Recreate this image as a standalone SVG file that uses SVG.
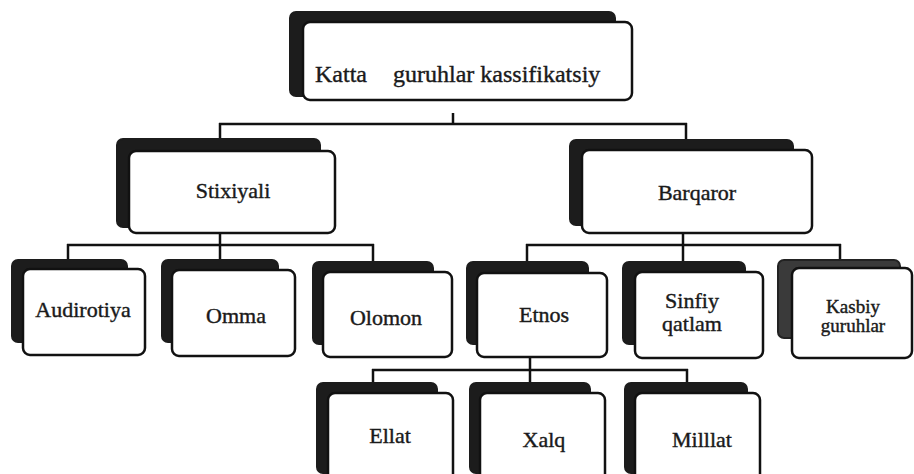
<svg xmlns="http://www.w3.org/2000/svg" width="914" height="474" viewBox="0 0 914 474">
<style>
.back{fill:#1c1c1c;stroke:#1c1c1c;stroke-width:2}
.back2{fill:#3a3a3a;stroke:#222;stroke-width:2}
.front{fill:#fff;stroke:#111;stroke-width:2.5}
.lbl{font-family:"Liberation Serif","DejaVu Serif",serif;font-size:22px;fill:#1a1a1a;text-anchor:middle;stroke:#1a1a1a;stroke-width:0.4}
.sm{font-size:19px}
.conn line{stroke:#111;stroke-width:2.5}
</style>
<rect width="914" height="474" fill="#fff"/>
<g class="conn" id="connectors">
<line x1="453" y1="113" x2="453" y2="125"/>
<line x1="219" y1="124" x2="687" y2="124"/>
<line x1="220" y1="123" x2="220" y2="139"/>
<line x1="686" y1="123" x2="686" y2="140"/>
<line x1="220" y1="233" x2="220" y2="260"/>
<line x1="67" y1="245" x2="374" y2="245"/>
<line x1="68" y1="244" x2="68" y2="260"/>
<line x1="373" y1="244" x2="373" y2="262"/>
<line x1="683" y1="233" x2="683" y2="262"/>
<line x1="526" y1="245" x2="841" y2="245"/>
<line x1="527" y1="244" x2="527" y2="262"/>
<line x1="840" y1="244" x2="840" y2="260"/>
<line x1="530" y1="357" x2="530" y2="383"/>
<line x1="372" y1="370" x2="688" y2="370"/>
<line x1="373" y1="369" x2="373" y2="383"/>
<line x1="687" y1="369" x2="687" y2="383"/>
</g>
<g id="n-top">
<rect class="back" x="290" y="12" width="325" height="84" rx="6"/>
<rect class="front" x="303" y="22" width="329" height="78" rx="7"/>
<text class="lbl" style="font-size:24px;text-anchor:start" y="82"><tspan x="315">Katta</tspan><tspan x="393">guruhlar kassifikatsiy</tspan></text>
</g>
<g id="n-stixiyali">
<rect class="back" x="117" y="139" width="203" height="88" rx="6"/>
<rect class="front" x="129" y="151" width="206" height="82" rx="7"/>
<text class="lbl" x="233" y="198">Stixiyali</text>
</g>
<g id="n-barqaror">
<rect class="back" x="570" y="140" width="223" height="85" rx="6"/>
<rect class="front" x="582" y="150" width="230" height="83" rx="7"/>
<text class="lbl" x="697" y="200">Barqaror</text>
</g>
<g id="n-audirotiya">
<rect class="back" x="12" y="260" width="115" height="82" rx="6"/>
<rect class="front" x="23" y="269" width="122" height="86" rx="7"/>
<text class="lbl" x="83" y="317">Audirotiya</text>
</g>
<g id="n-omma">
<rect class="back" x="162" y="260" width="116" height="82" rx="6"/>
<rect class="front" x="172" y="270" width="123" height="86" rx="7"/>
<text class="lbl" x="236" y="323">Omma</text>
</g>
<g id="n-olomon">
<rect class="back" x="313" y="262" width="120" height="82" rx="6"/>
<rect class="front" x="323" y="272" width="129" height="85" rx="7"/>
<text class="lbl" x="386" y="325">Olomon</text>
</g>
<g id="n-etnos">
<rect class="back" x="467" y="262" width="121" height="82" rx="6"/>
<rect class="front" x="477" y="273" width="130" height="84" rx="7"/>
<text class="lbl" x="544" y="322">Etnos</text>
</g>
<g id="n-sinfiy">
<rect class="back" x="623" y="262" width="122" height="82" rx="6"/>
<rect class="front" x="635" y="272" width="128" height="86" rx="7"/>
<text class="lbl" x="692" y="308">Sinfiy</text>
<text class="lbl" x="692" y="331">qatlam</text>
</g>
<g id="n-kasbiy">
<rect class="back2" x="778" y="260" width="122" height="78" rx="6"/>
<rect class="front" x="792" y="268" width="120" height="90" rx="7"/>
<text class="lbl sm" x="853" y="313">Kasbiy</text>
<text class="lbl sm" x="853" y="332">guruhlar</text>
</g>
<g id="n-ellat">
<rect class="back" x="317" y="383" width="120" height="90" rx="6"/>
<rect class="front" x="328" y="393" width="125" height="95" rx="7"/>
<text class="lbl" x="390" y="443">Ellat</text>
</g>
<g id="n-xalq">
<rect class="back" x="470" y="383" width="120" height="90" rx="6"/>
<rect class="front" x="480" y="393" width="125" height="95" rx="7"/>
<text class="lbl" x="544" y="447">Xalq</text>
</g>
<g id="n-milllat">
<rect class="back" x="625" y="383" width="122" height="90" rx="6"/>
<rect class="front" x="635" y="393" width="125" height="95" rx="7"/>
<text class="lbl" x="702" y="447">Milllat</text>
</g>
</svg>
